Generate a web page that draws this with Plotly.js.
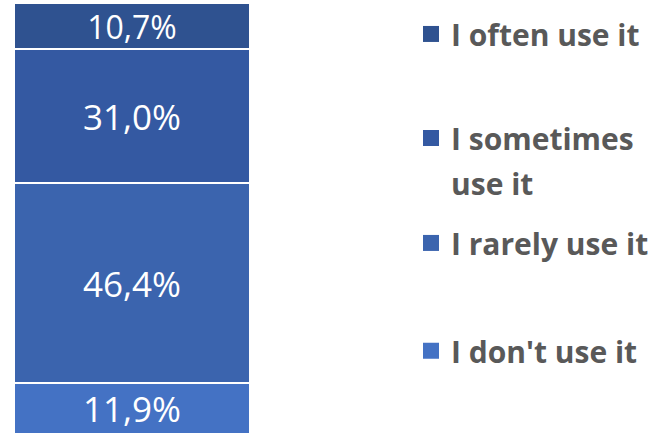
<!DOCTYPE html>
<html>
<head>
<meta charset="utf-8">
<script src="https://cdn.plot.ly/plotly-3.0.1.min.js"></script>
<style>html,body{margin:0;padding:0;background:#fff;}#chart{width:667px;height:433px;}</style>
</head>
<body>
<div id="chart"></div>
<script>
// Data (stacked bottom to top)
const categories = ["Usage"];
const seriesNames = ["I don't use it", "I rarely use it", "I sometimes use it", "I often use it"];
const legendLabels = ["I don't use it", "I rarely use it", "I sometimes", "I often use it"];
const wrappedLabelTail = "use it";
const dontUse = [11.9];
const rarelyUse = [46.4];
const sometimesUse = [31.0];
const oftenUse = [10.7];

const seriesValues = [dontUse, rarelyUse, sometimesUse, oftenUse];
const colors = ["#4472C4", "#3B64AE", "#3459A2", "#2F5290"];
const labelSizes = [35, 35, 35, 32];
const legendIds = ["legend4", "legend3", "legend2", "legend"];

const traces = [];
seriesValues.forEach((vals, i) => {
  traces.push({
    type: 'bar',
    name: seriesNames[i],
    x: categories,
    y: vals,
    width: 1,
    marker: {color: colors[i], line: {color: '#ffffff', width: 2}},
    texttemplate: '%{y:.1f}%',
    textposition: 'inside',
    insidetextanchor: 'middle',
    constraintext: 'none',
    textangle: 0,
    textfont: {family: '"Open Sans", sans-serif', size: labelSizes[i], color: '#ffffff'},
    hoverinfo: 'skip',
    showlegend: false
  });
});
// legend entries
seriesValues.forEach((vals, i) => {
  traces.push({
    type: 'scatter',
    mode: 'markers',
    name: legendLabels[i],
    x: [null],
    y: [null],
    marker: {symbol: 'square', size: 16, color: colors[i]},
    legend: legendIds[i],
    showlegend: true,
    hoverinfo: 'skip'
  });
});

const legFont = {family: '"Open Sans", sans-serif', size: 30, color: '#595959', weight: 700};
function leg(y) {
  return {x: 411/667, xanchor: 'left', y: y, yanchor: 'middle', font: legFont,
          bgcolor: 'rgba(0,0,0,0)', borderwidth: 0, itemclick: false, itemdoubleclick: false};
}

const layout = {
  width: 667, height: 433,
  margin: {l: 0, r: 0, t: 3, b: 0, pad: 0},
  paper_bgcolor: '#ffffff', plot_bgcolor: '#ffffff',
  separators: ',.',
  barmode: 'stack',
  xaxis: {type: 'category', domain: [14/667, 250/667], range: [-0.5, 0.5], visible: false, fixedrange: true},
  yaxis: {range: [0.35, 100], visible: false, fixedrange: true},
  legend: leg(0.928),
  legend2: leg(0.686),
  legend3: leg(0.442),
  legend4: leg(0.191),
  annotations: [{
    xref: 'paper', yref: 'paper', x: 449/667, y: 0.581, xanchor: 'left', yanchor: 'middle',
    text: wrappedLabelTail, showarrow: false, font: legFont
  }],
  showlegend: true
};

Plotly.newPlot('chart', traces, layout, {displayModeBar: false, staticPlot: true});
</script>
</body>
</html>
